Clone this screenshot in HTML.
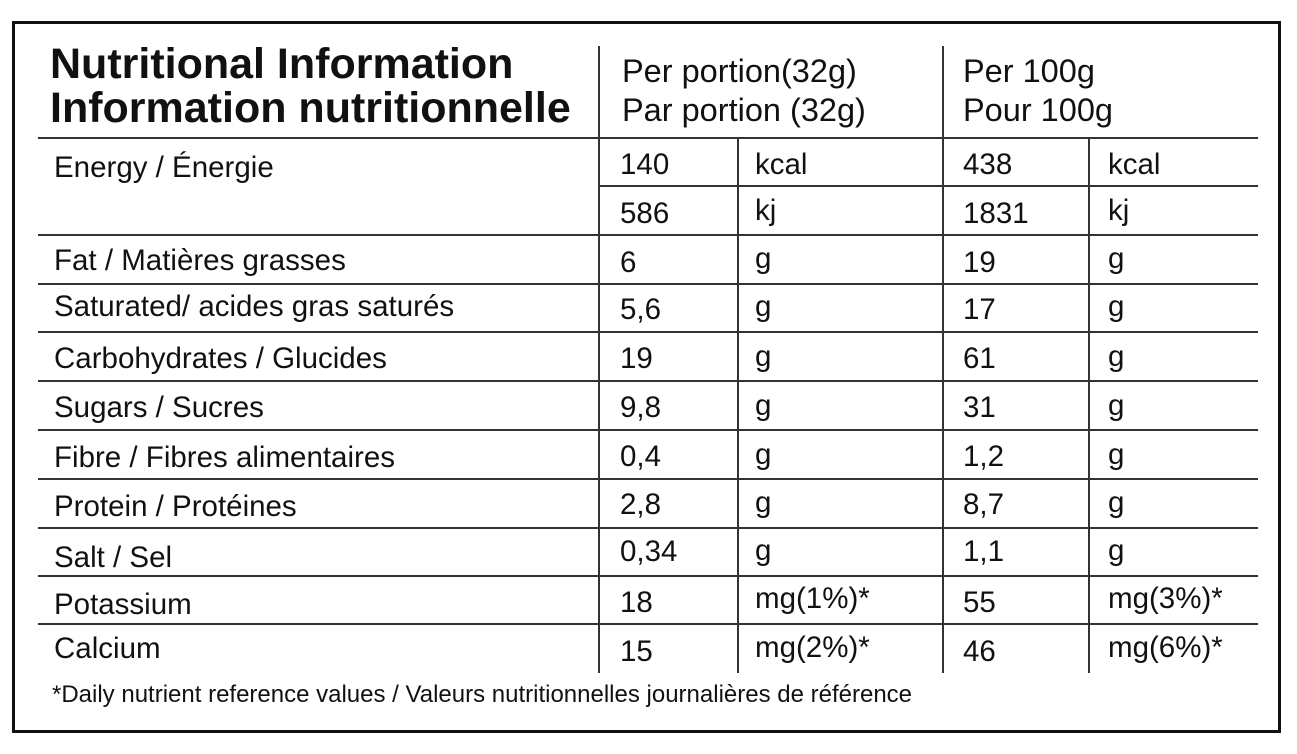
<!DOCTYPE html>
<html><head><meta charset="utf-8"><style>
body{margin:0;width:1297px;height:754px;background:#fff;position:relative;overflow:hidden;font-family:"Liberation Sans",Arial,sans-serif;color:#111}
.b{position:absolute;left:12px;top:21px;width:1263px;height:706px;border:3px solid #111}
.h{position:absolute;height:1.5px;background:#333}
.v{position:absolute;width:1.5px;background:#333}
.t{position:absolute;font-size:29.5px;white-space:nowrap;line-height:1;margin-top:-1px}
.hd{position:absolute;font-size:43px;font-weight:bold;line-height:1;white-space:nowrap}
.ph{position:absolute;font-size:32.5px;line-height:1;white-space:nowrap}
</style></head><body>
<div class="b"></div>
<div class="hd" style="left:50px;top:43px">Nutritional Information</div>
<div class="hd" style="left:50px;top:87px">Information nutritionnelle</div>
<div class="ph" style="left:622px;top:55px">Per portion(32g)</div>
<div class="ph" style="left:622px;top:94px">Par portion (32g)</div>
<div class="ph" style="left:963px;top:55px">Per 100g</div>
<div class="ph" style="left:963px;top:94px">Pour 100g</div>

<div class="v" style="left:598px;top:46px;height:91px"></div>
<div class="v" style="left:942px;top:46px;height:91px"></div>
<div class="v" style="left:598px;top:137px;height:536px"></div>
<div class="v" style="left:737px;top:137px;height:536px"></div>
<div class="v" style="left:942px;top:137px;height:536px"></div>
<div class="v" style="left:1088px;top:137px;height:536px"></div>

<div class="h" style="left:38px;width:1220px;top:137px"></div>
<div class="h" style="left:598px;width:660px;top:185px"></div>
<div class="h" style="left:38px;width:1220px;top:234px"></div>
<div class="h" style="left:38px;width:1220px;top:283px"></div>
<div class="h" style="left:38px;width:1220px;top:331px"></div>
<div class="h" style="left:38px;width:1220px;top:380px"></div>
<div class="h" style="left:38px;width:1220px;top:429px"></div>
<div class="h" style="left:38px;width:1220px;top:478px"></div>
<div class="h" style="left:38px;width:1220px;top:527px"></div>
<div class="h" style="left:38px;width:1220px;top:575px"></div>
<div class="h" style="left:38px;width:1220px;top:623px"></div>

<div class="t" style="left:54px;top:154px">Energy / Énergie</div>
<div class="t" style="left:620px;top:151px">140</div><div class="t" style="left:755px;top:151px">kcal</div><div class="t" style="left:963px;top:151px">438</div><div class="t" style="left:1108px;top:151px">kcal</div>
<div class="t" style="left:620px;top:200px">586</div><div class="t" style="left:755px;top:197px">kj</div><div class="t" style="left:963px;top:200px">1831</div><div class="t" style="left:1108px;top:197px">kj</div>

<div class="t" style="left:54px;top:247px">Fat / Matières grasses</div>
<div class="t" style="left:620px;top:249px">6</div><div class="t" style="left:755px;top:245px">g</div><div class="t" style="left:963px;top:249px">19</div><div class="t" style="left:1108px;top:245px">g</div>

<div class="t" style="left:54px;top:293px">Saturated/ acides gras saturés</div>
<div class="t" style="left:620px;top:296px">5,6</div><div class="t" style="left:755px;top:293px">g</div><div class="t" style="left:963px;top:296px">17</div><div class="t" style="left:1108px;top:293px">g</div>

<div class="t" style="left:54px;top:345px">Carbohydrates / Glucides</div>
<div class="t" style="left:620px;top:345px">19</div><div class="t" style="left:755px;top:343px">g</div><div class="t" style="left:963px;top:345px">61</div><div class="t" style="left:1108px;top:343px">g</div>

<div class="t" style="left:54px;top:394px">Sugars / Sucres</div>
<div class="t" style="left:620px;top:394px">9,8</div><div class="t" style="left:755px;top:392px">g</div><div class="t" style="left:963px;top:394px">31</div><div class="t" style="left:1108px;top:392px">g</div>

<div class="t" style="left:54px;top:444px">Fibre / Fibres alimentaires</div>
<div class="t" style="left:620px;top:443px">0,4</div><div class="t" style="left:755px;top:441px">g</div><div class="t" style="left:963px;top:443px">1,2</div><div class="t" style="left:1108px;top:441px">g</div>

<div class="t" style="left:54px;top:493px">Protein / Protéines</div>
<div class="t" style="left:620px;top:491px">2,8</div><div class="t" style="left:755px;top:489px">g</div><div class="t" style="left:963px;top:491px">8,7</div><div class="t" style="left:1108px;top:489px">g</div>

<div class="t" style="left:54px;top:544px">Salt / Sel</div>
<div class="t" style="left:620px;top:538px">0,34</div><div class="t" style="left:755px;top:537px">g</div><div class="t" style="left:963px;top:538px">1,1</div><div class="t" style="left:1108px;top:537px">g</div>

<div class="t" style="left:54px;top:591px">Potassium</div>
<div class="t" style="left:620px;top:589px">18</div><div class="t" style="left:755px;top:585px">mg(1%)*</div><div class="t" style="left:963px;top:589px">55</div><div class="t" style="left:1108px;top:585px">mg(3%)*</div>

<div class="t" style="left:54px;top:635px">Calcium</div>
<div class="t" style="left:620px;top:638px">15</div><div class="t" style="left:755px;top:634px">mg(2%)*</div><div class="t" style="left:963px;top:638px">46</div><div class="t" style="left:1108px;top:634px">mg(6%)*</div>

<div class="t" style="left:52px;top:684px;font-size:24px">*Daily nutrient reference values / Valeurs nutritionnelles journalières de référence</div>
</body></html>
